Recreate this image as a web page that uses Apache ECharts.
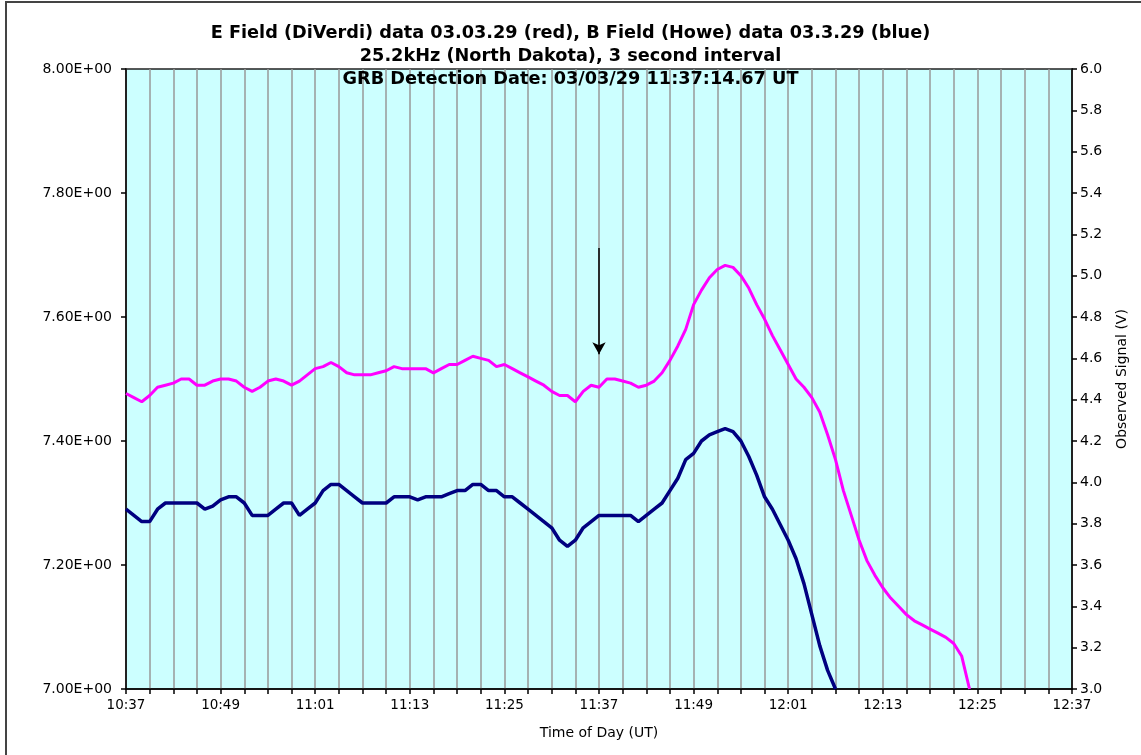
<!DOCTYPE html>
<html>
<head>
<meta charset="utf-8">
<title>E Field / B Field 03.03.29</title>
<script src="https://cdn.jsdelivr.net/npm/echarts/dist/echarts.min.js"></script>
<style>
  html, body { margin: 0; padding: 0; background: #ffffff; }
  #chart { width: 1141px; height: 755px; }
</style>
</head>
<body>
<div id="chart"></div>
<script>
// Sample times (UT), one reading per minute
const sampleTimes = [
  '10:37','10:38','10:39','10:40','10:41','10:42','10:43','10:44','10:45','10:46',
  '10:47','10:48','10:49','10:50','10:51','10:52','10:53','10:54','10:55','10:56',
  '10:57','10:58','10:59','11:00','11:01','11:02','11:03','11:04','11:05','11:06',
  '11:07','11:08','11:09','11:10','11:11','11:12','11:13','11:14','11:15','11:16',
  '11:17','11:18','11:19','11:20','11:21','11:22','11:23','11:24','11:25','11:26',
  '11:27','11:28','11:29','11:30','11:31','11:32','11:33','11:34','11:35','11:36',
  '11:37','11:38','11:39','11:40','11:41','11:42','11:43','11:44','11:45','11:46',
  '11:47','11:48','11:49','11:50','11:51','11:52','11:53','11:54','11:55','11:56',
  '11:57','11:58','11:59','12:00','12:01','12:02','12:03','12:04','12:05','12:06',
  '12:07','12:08','12:09','12:10','12:11','12:12','12:13','12:14','12:15','12:16',
  '12:17','12:18','12:19','12:20','12:21','12:22','12:23','12:24'
];

// E Field (DiVerdi), observed signal in volts (right axis)
const eFieldVolts = [
  4.43,4.41,4.39,4.42,4.46,4.47,4.48,4.50,4.50,4.47,
  4.47,4.49,4.50,4.50,4.49,4.46,4.44,4.46,4.49,4.50,
  4.49,4.47,4.49,4.52,4.55,4.56,4.58,4.56,4.53,4.52,
  4.52,4.52,4.53,4.54,4.56,4.55,4.55,4.55,4.55,4.53,
  4.55,4.57,4.57,4.59,4.61,4.60,4.59,4.56,4.57,4.55,
  4.53,4.51,4.49,4.47,4.44,4.42,4.42,4.39,4.44,4.47,
  4.46,4.50,4.50,4.49,4.48,4.46,4.47,4.49,4.53,4.59,
  4.66,4.74,4.86,4.93,4.99,5.03,5.05,5.04,5.00,4.94,
  4.86,4.79,4.71,4.64,4.57,4.50,4.46,4.41,4.34,4.23,
  4.11,3.96,3.84,3.72,3.62,3.55,3.49,3.44,3.40,3.36,
  3.33,3.31,3.29,3.27,3.25,3.22,3.16,3.00
];

// B Field (Howe) readings (left axis), first 91 sample times
const bFieldValues = [
  7.29,7.28,7.27,7.27,7.29,7.30,7.30,7.30,7.30,7.30,
  7.29,7.295,7.305,7.31,7.31,7.30,7.28,7.28,7.28,7.29,
  7.30,7.30,7.28,7.29,7.30,7.32,7.33,7.33,7.32,7.31,
  7.30,7.30,7.30,7.30,7.31,7.31,7.31,7.305,7.31,7.31,
  7.31,7.315,7.32,7.32,7.33,7.33,7.32,7.32,7.31,7.31,
  7.30,7.29,7.28,7.27,7.26,7.24,7.23,7.24,7.26,7.27,
  7.28,7.28,7.28,7.28,7.28,7.27,7.28,7.29,7.30,7.32,
  7.34,7.37,7.38,7.40,7.41,7.415,7.42,7.415,7.40,7.375,
  7.345,7.31,7.29,7.265,7.24,7.21,7.17,7.12,7.07,7.03,
  7.00
];

// Labelled time ticks on the x axis
const xTickLabels = ['10:37','10:49','11:01','11:13','11:25','11:37','11:49','12:01','12:13','12:25','12:37'];

// Detection marker: time and the top / tip levels in volts
const detectionTime = '11:37';
const detectionArrowVolts = [5.134, 4.62];

const startMinutes = 10 * 60 + 37;
function toOffset(t) {
  const p = t.split(':');
  return (+p[0]) * 60 + (+p[1]) - startMinutes;
}

const eData = eFieldVolts.map((v, i) => [toOffset(sampleTimes[i]), v]);
const bData = bFieldValues.map((v, i) => [toOffset(sampleTimes[i]), v]);

const xTickFont = { fontFamily: 'DejaVu Sans', fontSize: 13.5, color: '#000' };
const yTickFont = { fontFamily: 'DejaVu Sans', fontSize: 14, color: '#000' };
const nameFont = { fontFamily: 'DejaVu Sans', fontSize: 14, color: '#000' };

const chart = echarts.init(document.getElementById('chart'), null, { renderer: 'canvas' });

chart.setOption({
  animation: false,
  backgroundColor: '#ffffff',
  graphic: [{
    type: 'rect',
    shape: { x: 6, y: 2, width: 1300, height: 900 },
    style: { fill: 'none', stroke: '#444', lineWidth: 2 },
    silent: true
  }],
  title: {
    text: 'E Field (DiVerdi) data 03.03.29 (red), B Field (Howe) data 03.3.29 (blue)\n25.2kHz (North Dakota), 3 second interval\nGRB Detection Date: 03/03/29 11:37:14.67 UT',
    left: 'center',
    top: 17,
    textStyle: {
      fontFamily: 'DejaVu Sans',
      fontWeight: 'bold',
      fontSize: 17.7,
      lineHeight: 23,
      color: '#000'
    },
    z: 10
  },
  grid: {
    left: 126, right: 69, top: 69, bottom: 66,
    show: true,
    backgroundColor: '#CCFFFF',
    borderColor: '#222',
    borderWidth: 1.5
  },
  xAxis: {
    type: 'value',
    min: 0,
    max: 120,
    interval: 3,
    name: 'Time of Day (UT)',
    nameLocation: 'middle',
    nameGap: 37,
    nameTextStyle: nameFont,
    axisLine: { lineStyle: { color: '#000', width: 1.5 } },
    axisTick: { show: true, inside: false, length: 5, lineStyle: { color: '#000', width: 1.5 } },
    axisLabel: Object.assign({
      margin: 9,
      formatter: function (v) {
        return (v % 12 === 0) ? xTickLabels[v / 12] : '';
      }
    }, xTickFont),
    splitLine: { show: true, lineStyle: { color: '#999999', width: 1.5 } }
  },
  yAxis: [{
    type: 'value',
    position: 'left',
    min: 7,
    max: 8,
    interval: 0.2,
    axisLine: { show: true, lineStyle: { color: '#000', width: 1.5 } },
    axisTick: { show: true, inside: false, length: 5, lineStyle: { color: '#000', width: 1.5 } },
    axisLabel: Object.assign({
      margin: 14,
      formatter: function (v) { return v.toFixed(2) + 'E+00'; }
    }, yTickFont),
    splitLine: { show: false }
  }, {
    type: 'value',
    position: 'right',
    min: 3,
    max: 6,
    interval: 0.2,
    name: 'Observed Signal (V)',
    nameLocation: 'middle',
    nameRotate: 90,
    nameGap: 43,
    nameTextStyle: nameFont,
    axisLine: { show: true, lineStyle: { color: '#000', width: 1.5 } },
    axisTick: { show: true, inside: false, length: 5, lineStyle: { color: '#000', width: 1.5 } },
    axisLabel: Object.assign({
      margin: 8,
      formatter: function (v) { return v.toFixed(1); }
    }, yTickFont),
    splitLine: { show: false }
  }],
  series: [{
    name: 'E Field',
    type: 'line',
    yAxisIndex: 1,
    data: eData,
    showSymbol: false,
    clip: true,
    lineStyle: { color: '#FF00FF', width: 3 },
    markLine: {
      silent: true,
      symbol: ['none', 'arrow'],
      symbolSize: [10, 12],
      label: { show: false },
      lineStyle: { color: '#000', width: 1.5, type: 'solid' },
      data: [[
        { coord: [toOffset(detectionTime), detectionArrowVolts[0]] },
        { coord: [toOffset(detectionTime), detectionArrowVolts[1]] }
      ]]
    }
  }, {
    name: 'B Field',
    type: 'line',
    yAxisIndex: 0,
    data: bData,
    showSymbol: false,
    clip: true,
    lineStyle: { color: '#000080', width: 3.5 }
  }]
});
</script>
</body>
</html>
